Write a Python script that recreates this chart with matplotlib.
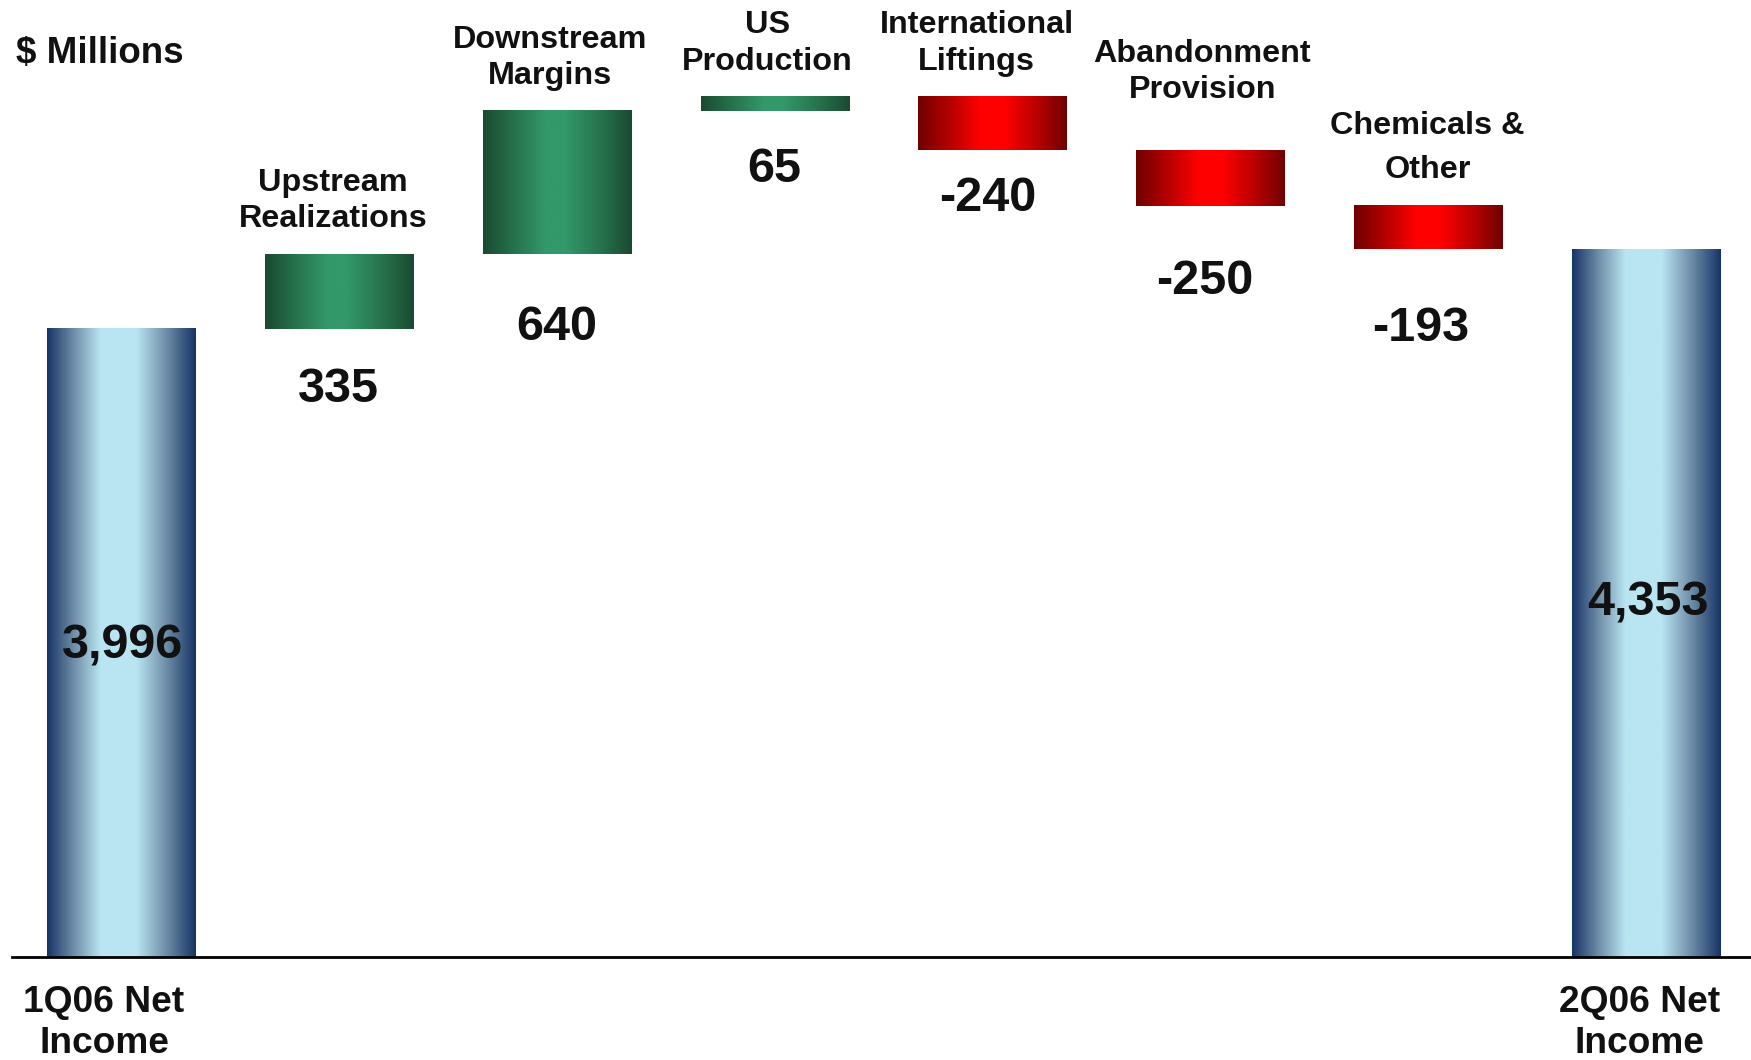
import matplotlib

matplotlib.use("Agg")
import matplotlib.pyplot as plt
import numpy as np
from matplotlib.colors import LinearSegmentedColormap

# Net income bridge, $ millions
start_label = "1Q06 Net\nIncome"
end_label = "2Q06 Net\nIncome"
start_value = 3996
end_value = 4353
step_labels = [
    "Upstream\nRealizations",
    "Downstream\nMargins",
    "US\nProduction",
    "International\nLiftings",
    "Abandonment\nProvision",
    "Chemicals &\nOther",
]
step_values = [335, 640, 65, -240, -250, -193]

# layout: pixel offsets for the hand-placed labels
top_label_offsets = [(-6, 53), (-7, 53), (-7, 53), (-16, 53), (-8, 78), (-1, 58)]
top_label_spacing = [1.28, 1.28, 1.28, 1.28, 1.28, 1.62]
value_label_offsets = [(0, 61), (0, 73), (0, 58), (-5, 48), (-6, 75), (-8, 79)]

W, H = 1751, 1060
BASE_PX = 957
Y0, Y1 = 1186, 5468
FONT = "Liberation Sans"
TXT = "#111111"

blue = LinearSegmentedColormap.from_list(
    "blue", [(0, "#163566"), (0.18, "#6f8ea8"), (0.36, "#b9e5f2"), (0.6, "#b9e5f2"),
             (0.8, "#6f8ea8"), (1, "#163566")])
green = LinearSegmentedColormap.from_list(
    "green", [(0, "#1a4a31"), (0.2, "#26714b"), (0.42, "#33986a"), (0.55, "#33986a"),
              (0.8, "#26714b"), (1, "#1a4a31")])
red = LinearSegmentedColormap.from_list(
    "red", [(0, "#700000"), (0.22, "#b80000"), (0.42, "#ff0000"), (0.58, "#ff0000"),
            (0.8, "#b80000"), (1, "#700000")])

ramp = np.linspace(0, 1, 256).reshape(1, -1)
width = 0.68


def gradient_bar(ax, x, lo, hi, cmap):
    ax.imshow(ramp, cmap=cmap, aspect="auto", interpolation="bilinear",
              extent=[x - width / 2, x + width / 2, lo, hi], zorder=2)


fig = plt.figure(figsize=(W / 100, H / 100), dpi=100)
ax = fig.add_axes([12 / W, (H - BASE_PX) / H, 1 - 12 / W, BASE_PX / H])

# totals
n = len(step_values) + 2
gradient_bar(ax, 0, Y0, start_value, blue)
gradient_bar(ax, n - 1, Y0, end_value, blue)
for x, v, dy in [(0, start_value, -3), (n - 1, end_value, 0)]:
    ax.annotate(f"{v:,}", (x, (Y0 + v) / 2), xytext=(2, dy), textcoords="offset pixels",
                ha="center", va="center", fontsize=35, fontweight="bold",
                family=FONT, color=TXT, zorder=3)

# steps
level = start_value
for i, (lab, v) in enumerate(zip(step_labels, step_values)):
    x = i + 1
    lo, hi = sorted([level, level + v])
    gradient_bar(ax, x, lo, hi, green if v > 0 else red)
    dx, dy = top_label_offsets[i]
    ax.annotate(lab, (x, hi), xytext=(dx, dy), textcoords="offset pixels",
                ha="center", va="center", fontsize=23.3, fontweight="bold",
                family=FONT, color=TXT, linespacing=top_label_spacing[i])
    vx, vy = value_label_offsets[i]
    ax.annotate(f"{v}", (x, lo), xytext=(vx, -vy),
                textcoords="offset pixels", ha="center", va="center",
                fontsize=35, fontweight="bold", family=FONT, color=TXT)
    level += v

# bottom labels for the totals
for x, lab, dx in [(0, start_label, -17), (n - 1, end_label, -7)]:
    ax.annotate(lab, (x, Y0), xytext=(dx, -66), textcoords="offset pixels",
                ha="center", va="center", fontsize=26.7, fontweight="bold",
                family=FONT, color=TXT, linespacing=1.23, annotation_clip=False)

fig.text(16 / W, 1 - 53 / H, "$ Millions", ha="left", va="center", fontsize=26.5,
         fontweight="bold", family=FONT, color=TXT)

ax.set_xlim(-0.5, (W - 121) / 217.9)
ax.set_ylim(Y0, Y1)
for side in ["top", "left", "right"]:
    ax.spines[side].set_visible(False)
ax.spines["bottom"].set_linewidth(2)
ax.spines["bottom"].set_zorder(4)
ax.set_xticks([])
ax.set_yticks([])
ax.patch.set_alpha(0)

fig.savefig("out.png", dpi=100)
